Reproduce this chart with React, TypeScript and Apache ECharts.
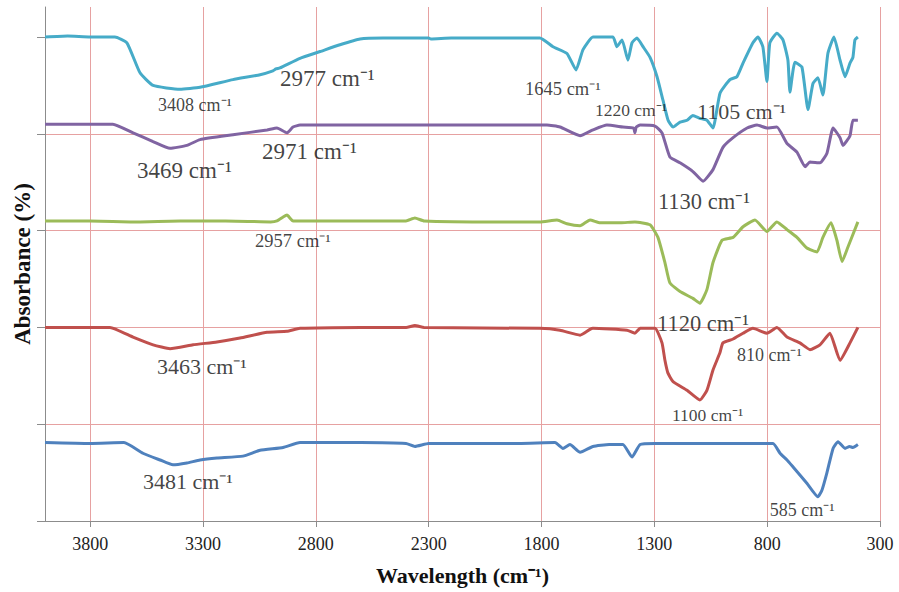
import React, { useEffect, useRef } from "react";
import * as echarts from "echarts";

const X_TICKS = [300, 800, 1300, 1800, 2300, 2800, 3300, 3800];
const Y_TICKS = [0, 1, 2, 3, 4, 5];

const SERIES_NAMES = ["S5", "S4", "S3", "S2", "S1"];
const SERIES_COLORS = ["#46abc8", "#8064a2", "#9bbb59", "#c0504d", "#4f81bd"];

const cyanData: number[][] = [
  [4000, 5.0], [3900, 5.01], [3800, 5.0], [3690, 5.0], [3637, 4.94], [3579, 4.63], [3521, 4.5],
  [3402, 4.46], [3313, 4.48], [3167, 4.56], [3047, 4.61], [2990, 4.65], [2977, 4.67], [2959, 4.68],
  [2870, 4.78], [2781, 4.85], [2693, 4.92], [2604, 4.98], [2502, 4.99], [2300, 4.99], [2290, 4.98],
  [2200, 4.99], [2100, 4.99], [1900, 4.99], [1807, 4.99], [1749, 4.9], [1687, 4.83], [1647, 4.66],
  [1616, 4.87], [1572, 5.0], [1483, 5.0], [1466, 4.9], [1443, 4.97], [1417, 4.76], [1399, 4.94],
  [1377, 4.99], [1350, 4.9], [1319, 4.79], [1288, 4.59], [1262, 4.35], [1239, 4.14], [1217, 4.07],
  [1186, 4.12], [1155, 4.14], [1129, 4.19], [1098, 4.16], [1067, 4.14], [1040, 4.06], [1009, 4.42],
  [965, 4.56], [934, 4.59], [907, 4.73], [863, 4.94], [841, 5.0], [819, 4.9], [801, 4.54],
  [788, 4.94], [757, 5.04], [730, 4.97], [708, 4.76], [699, 4.43], [677, 4.74], [646, 4.69],
  [619, 4.25], [597, 4.52], [575, 4.58], [553, 4.4], [531, 4.83], [504, 5.0], [477, 4.76],
  [455, 4.59], [433, 4.73], [420, 4.79], [411, 4.97], [398, 5.0],
];

const purpleData: number[][] = [
  [4000, 4.1], [3850, 4.1], [3699, 4.1], [3610, 4.01], [3521, 3.92], [3446, 3.85], [3371, 3.88],
  [3313, 3.94], [3167, 3.99], [3016, 4.04], [2972, 4.06], [2928, 4.01], [2901, 4.07], [2870, 4.09],
  [2500, 4.09], [2100, 4.09], [1776, 4.09], [1718, 4.07], [1629, 3.98], [1572, 4.04], [1510, 4.09],
  [1439, 4.07], [1392, 4.06], [1386, 4.01], [1380, 4.07], [1363, 4.09], [1297, 4.08], [1266, 4.01],
  [1231, 3.76], [1186, 3.7], [1129, 3.61], [1084, 3.51], [1040, 3.63], [996, 3.86], [951, 3.96],
  [889, 4.06], [845, 4.09], [801, 4.06], [757, 4.07], [712, 3.9], [668, 3.81], [632, 3.66],
  [610, 3.71], [566, 3.7], [535, 3.8], [508, 4.06], [477, 3.96], [464, 3.88], [433, 3.98],
  [420, 4.14], [398, 4.14],
];

const greenData: number[][] = [
  [4000, 3.1], [3800, 3.1], [3600, 3.09], [3400, 3.1], [3200, 3.1], [3000, 3.09], [2972, 3.1],
  [2945, 3.14], [2928, 3.16], [2901, 3.1], [2870, 3.1], [2600, 3.1], [2400, 3.1], [2361, 3.13],
  [2320, 3.1], [2000, 3.09], [1807, 3.09], [1731, 3.11], [1687, 3.07], [1629, 3.05], [1585, 3.11],
  [1540, 3.08], [1450, 3.08], [1386, 3.09], [1319, 3.06], [1284, 2.93], [1253, 2.67], [1231, 2.46],
  [1186, 2.37], [1129, 2.3], [1098, 2.25], [1067, 2.39], [1040, 2.67], [1000, 2.9], [951, 2.93],
  [907, 3.04], [854, 3.11], [801, 2.99], [757, 3.09], [712, 3.01], [668, 2.93], [624, 2.82],
  [579, 2.78], [553, 2.93], [517, 3.08], [491, 2.9], [468, 2.68], [442, 2.83], [398, 3.09],
];

const redData: number[][] = [
  [4000, 2.0], [3800, 2.0], [3712, 2.0], [3610, 1.9], [3521, 1.82], [3446, 1.78], [3344, 1.82],
  [3238, 1.85], [3136, 1.89], [3016, 1.95], [2928, 1.96], [2870, 1.99], [2600, 2.0], [2400, 2.0],
  [2361, 2.02], [2320, 2.0], [1807, 1.99], [1718, 1.97], [1629, 1.92], [1585, 1.98], [1572, 1.99],
  [1421, 1.97], [1386, 1.94], [1363, 1.99], [1297, 1.99], [1266, 1.84], [1253, 1.66], [1240, 1.53],
  [1217, 1.44], [1155, 1.35], [1098, 1.25], [1067, 1.35], [1040, 1.56], [1009, 1.74], [996, 1.84],
  [951, 1.88], [907, 1.94], [863, 1.99], [801, 1.94], [757, 2.0], [712, 1.9], [655, 1.84],
  [610, 1.77], [566, 1.82], [522, 1.94], [477, 1.66], [433, 1.84], [398, 2.0],
];

const blueData: number[][] = [
  [4000, 0.81], [3800, 0.8], [3650, 0.81], [3566, 0.7], [3490, 0.63], [3433, 0.58], [3371, 0.6],
  [3313, 0.63], [3238, 0.65], [3123, 0.67], [3047, 0.73], [2945, 0.76], [2870, 0.81], [2600, 0.81],
  [2400, 0.8], [2361, 0.77], [2300, 0.8], [1900, 0.8], [1740, 0.81], [1705, 0.75], [1674, 0.79],
  [1629, 0.71], [1572, 0.77], [1500, 0.79], [1439, 0.79], [1399, 0.66], [1363, 0.79], [1297, 0.8],
  [1000, 0.8], [774, 0.8], [743, 0.7], [712, 0.63], [686, 0.56], [624, 0.39], [575, 0.25],
  [557, 0.32], [535, 0.5], [508, 0.75], [486, 0.82], [455, 0.75], [435, 0.77], [420, 0.76],
  [398, 0.79],
];

const ANNOT_TEXTS = [
  "3408 cm⁻¹", "2977 cm⁻¹", "1645 cm⁻¹", "1220 cm⁻¹", "1105 cm⁻¹",
  "3469 cm⁻¹", "2971 cm⁻¹", "1130 cm⁻¹", "2957 cm⁻¹", "1120 cm⁻¹",
  "3463 cm⁻¹", "810 cm⁻¹", "1100 cm⁻¹", "3481 cm⁻¹", "585 cm⁻¹",
];
// left edge (wavenumber) and vertical centre (absorbance) of each annotation
const ANNOT_X = [3499, 2959, 1873, 1563, 1111, 3592, 3038, 1284, 3069, 1288, 3504, 934, 1222, 3566, 788];
const ANNOT_Y = [4.3, 4.57, 4.46, 4.25, 4.23, 3.62, 3.82, 3.3, 2.89, 2.04, 1.6, 1.72, 1.09, 0.41, 0.11];
const ANNOT_SIZE = [18, 23, 18.5, 17.5, 22, 23, 23, 22.5, 18.5, 22.5, 22, 18, 17.5, 22, 18];

const SERIF = "Liberation Serif";

export default function App() {
  const ref = useRef<HTMLDivElement>(null);
  useEffect(() => {
    if (!ref.current) return;
    const chart = echarts.init(ref.current, undefined, { renderer: "svg" });
    const allData = [cyanData, purpleData, greenData, redData, blueData];
    const lineSeries = allData.map((d, i) => ({
      name: SERIES_NAMES[i],
      type: "line",
      data: d,
      showSymbol: false,
      symbol: "none",
      smooth: 0.15,
      clip: false,
      lineStyle: { color: SERIES_COLORS[i], width: 3 },
      itemStyle: { color: SERIES_COLORS[i] },
      z: 3,
    }));
    const annotSeries = {
      type: "scatter",
      symbolSize: 0,
      silent: true,
      z: 5,
      data: ANNOT_TEXTS.map((t, i) => ({
        name: t,
        value: [ANNOT_X[i], ANNOT_Y[i]],
        label: { fontSize: ANNOT_SIZE[i] },
      })),
      label: {
        show: true,
        position: [0, 0],
        align: "left",
        verticalAlign: "middle",
        formatter: "{b}",
        color: "#111",
        fontFamily: SERIF,
      },
    };
    chart.setOption({
      animation: false,
      backgroundColor: "#ffffff",
      textStyle: { fontFamily: SERIF },
      grid: { left: 45, right: 19, top: 7, bottom: 71, containLabel: false },
      xAxis: {
        type: "value",
        inverse: true,
        min: 300,
        max: 4000,
        interval: 500,
        axisLine: { show: true, onZero: false, lineStyle: { color: "#8c8c8c", width: 1 } },
        axisTick: { show: true, length: 6, customValues: X_TICKS, lineStyle: { color: "#8c8c8c" } },
        axisLabel: {
          customValues: X_TICKS,
          formatter: (v: number) => String(v),
          margin: 14,
          fontSize: 18,
          color: "#222",
          fontFamily: SERIF,
        },
        splitLine: { show: true, lineStyle: { color: "#e6a1a1", width: 1 } },
        name: "Wavelength (cm⁻¹)",
        nameLocation: "middle",
        nameGap: 43,
        nameTextStyle: { fontWeight: "bold", fontSize: 22, fontFamily: SERIF, color: "#111" },
      },
      yAxis: {
        type: "value",
        min: 0,
        max: 5.31,
        interval: 1,
        axisLine: { show: true, onZero: false, lineStyle: { color: "#8c8c8c", width: 1 } },
        axisTick: { show: true, length: 8, customValues: Y_TICKS, lineStyle: { color: "#8c8c8c" } },
        axisLabel: { show: false },
        splitLine: {
          show: true,
          showMaxLine: false,
          showMinLine: false,
          lineStyle: { color: "#e6a1a1", width: 1 },
        },
        name: "Absorbance (%)",
        nameLocation: "middle",
        nameGap: 11,
        nameTextStyle: { fontWeight: "bold", fontSize: 23, fontFamily: SERIF, color: "#111" },
      },
      series: [...lineSeries, annotSeries],
    });
    return () => chart.dispose();
  }, []);
  return (
    <div
      ref={ref}
      style={{ position: "absolute", left: 0, top: 0, width: 899, height: 592 }}
    />
  );
}
